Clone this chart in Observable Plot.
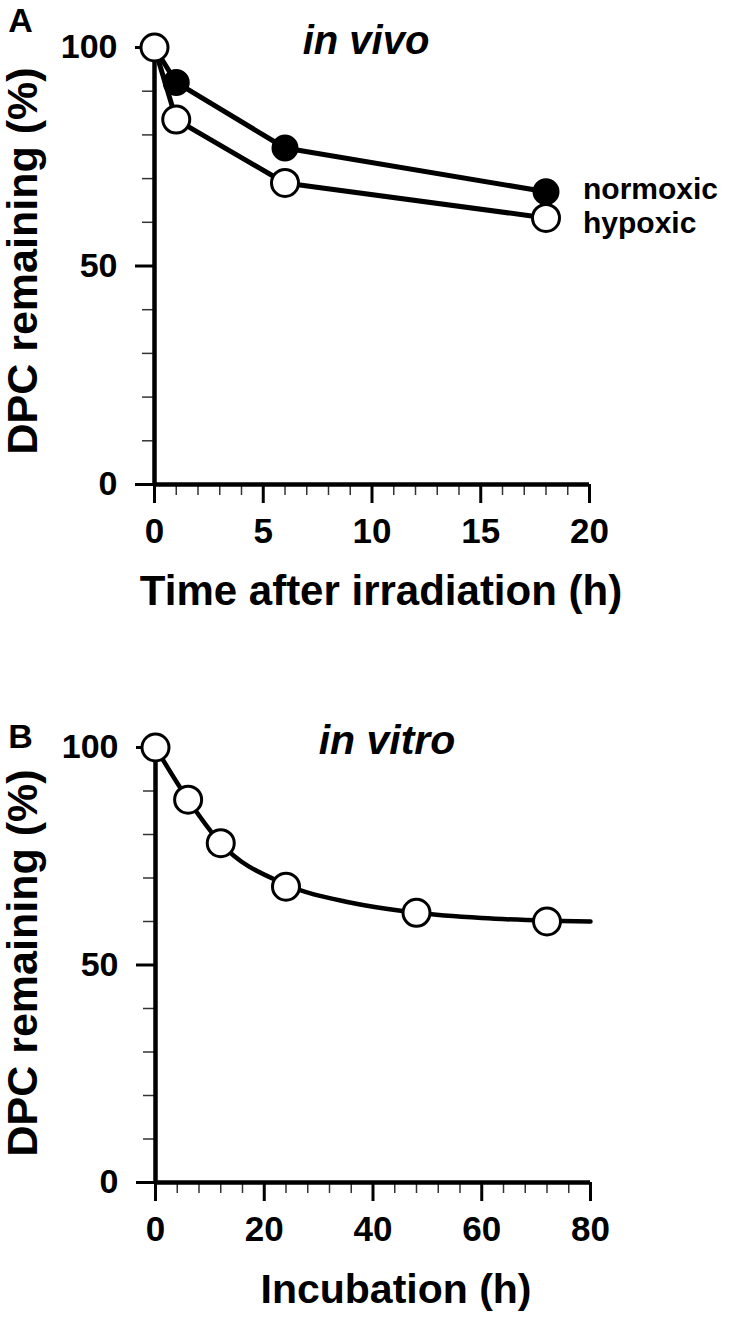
<!DOCTYPE html>
<html><head><meta charset="utf-8">
<script src="https://cdn.jsdelivr.net/npm/d3@7"></script>
<script src="https://cdn.jsdelivr.net/npm/@observablehq/plot@0.6"></script>
<style>
body{margin:0;background:#fff;}
#wrap{position:relative;width:750px;height:1321px;background:#fff;}
#wrap svg{display:block;overflow:visible;}
</style></head><body><div id="wrap"></div>
<script>
// ---- Panel A data (in vivo) ----
const timeA = [0, 1, 6, 18];
const normoxic = [100, 92, 77, 67];
const hypoxic = [100, 83.5, 69, 61];
const seriesNames = ["normoxic", "hypoxic"];
// ---- Panel B data (in vitro) ----
const timeB = [0, 6, 12, 24, 48, 72];
const vitro = [100, 88, 78, 68, 62, 60];
const fitTimeB = [0, 6, 12, 24, 36, 48, 60, 72, 80];
const fitVitro = [100, 88, 78, 68.5, 64.3, 62, 60.8, 60.2, 60];
// ---- ticks ----
const yTicks = [0, 50, 100];
const yMinor = [10, 20, 30, 40, 60, 70, 80, 90];
const xTicksA = [0, 5, 10, 15, 20];
const xMinorA = [1,2,3,4,6,7,8,9,11,12,13,14,16,17,18,19];
const xTicksB = [0, 20, 40, 60, 80];
const xMinorB = [4,8,12,16,24,28,32,36,44,48,52,56,64,68,72,76];
// ---- texts ----
const yTitle = "DPC remaining (%)";
const xTitleA = "Time after irradiation (h)";
const xTitleB = "Incubation (h)";

const FONT = "'Liberation Sans', Arial, Helvetica, sans-serif";
const bold = {fontFamily: FONT, fontWeight: "bold", textAnchor: "middle", lineAnchor: "middle"};

const dataA = [];
timeA.forEach((t, i) => dataA.push({series: seriesNames[0], t, v: normoxic[i]}));
timeA.forEach((t, i) => dataA.push({series: seriesNames[1], t, v: hypoxic[i]}));
const normA = dataA.filter(d => d.series === "normoxic");
const hypoA = dataA.filter(d => d.series === "hypoxic");
const dataB = timeB.map((t, i) => ({t, v: vitro[i]}));
const fitB = fitTimeB.map((t, i) => ({t, v: fitVitro[i]}));

function axes(xMajor, xMinor) {
  return [
    Plot.axisY({ticks: yMinor, tickSize: 12, text: null, strokeWidth: 1.5, stroke: "#333", label: null}),
    Plot.axisY({ticks: yTicks, tickSize: 19, tickPadding: 18, strokeWidth: 3, fontSize: 34, fontFamily: FONT, fontWeight: "bold", label: null}),
    Plot.axisX({ticks: xMinor, tickSize: 11, text: null, strokeWidth: 1.5, stroke: "#333", label: null}),
    Plot.axisX({ticks: xMajor, tickSize: 19, tickPadding: 15, strokeWidth: 3, fontSize: 35, fontFamily: FONT, fontWeight: "bold", label: null}),
    Plot.ruleX([0], {strokeWidth: 4.5}),
    Plot.ruleY([0], {strokeWidth: 4.5})
  ];
}

const plotA = Plot.plot({
  width: 750, height: 660,
  marginLeft: 154, marginRight: 161, marginTop: 47, marginBottom: 176,
  x: {domain: [0, 20]}, y: {domain: [0, 100]},
  style: {fontFamily: FONT, background: "white", overflow: "visible"},
  marks: [
    ...axes(xTicksA, xMinorA),
    Plot.line(dataA, {x: "t", y: "v", z: "series", stroke: "black", strokeWidth: 5}),
    Plot.dot(normA, {x: "t", y: "v", r: 12, fill: "black", stroke: "black", strokeWidth: 3}),
    Plot.dot(hypoA, {x: "t", y: "v", r: 13.5, fill: "white", stroke: "black", strokeWidth: 3}),
    Plot.text(normA, Plot.selectLast({x: "t", y: "v", text: "series", ...bold, textAnchor: "start", dx: 37, dy: -2, fontSize: 30})),
    Plot.text(hypoA, Plot.selectLast({x: "t", y: "v", text: "series", ...bold, textAnchor: "start", dx: 37, dy: 5, fontSize: 30})),
    Plot.text(["in vivo"], {text: d => d, frameAnchor: "top", ...bold, dx: -6, dy: -6, fontSize: 40, fontStyle: "italic"}),
    Plot.text([xTitleA], {text: d => d, frameAnchor: "bottom", ...bold, dx: 9, dy: 107, fontSize: 42}),
    Plot.text([yTitle], {text: d => d, frameAnchor: "left", ...bold, rotate: -90, dx: -131, dy: -5, fontSize: 43}),
    Plot.text(["A"], {text: d => d, frameAnchor: "top-left", ...bold, dx: -134, dy: -26, fontSize: 34})
  ]
});

const plotB = Plot.plot({
  width: 750, height: 661,
  marginLeft: 155, marginRight: 160, marginTop: 87, marginBottom: 139,
  x: {domain: [0, 80]}, y: {domain: [0, 100]},
  style: {fontFamily: FONT, background: "white", overflow: "visible"},
  marks: [
    ...axes(xTicksB, xMinorB),
    Plot.line(fitB, {x: "t", y: "v", stroke: "black", strokeWidth: 4.5, curve: "monotone-x"}),
    Plot.dot(dataB, {x: "t", y: "v", r: 13.5, fill: "white", stroke: "black", strokeWidth: 3}),
    Plot.text(["in vitro"], {text: d => d, frameAnchor: "top", ...bold, dx: 14, dy: -7, fontSize: 41, fontStyle: "italic"}),
    Plot.text([xTitleB], {text: d => d, frameAnchor: "bottom", ...bold, dx: 23, dy: 107, fontSize: 41}),
    Plot.text([yTitle], {text: d => d, frameAnchor: "left", ...bold, rotate: -90, dx: -132, dy: -2, fontSize: 43}),
    Plot.text(["B"], {text: d => d, frameAnchor: "top-left", ...bold, dx: -135, dy: -10, fontSize: 34})
  ]
});

const wrap = document.getElementById("wrap");
wrap.appendChild(plotA);
wrap.appendChild(plotB);
</script></body></html>
